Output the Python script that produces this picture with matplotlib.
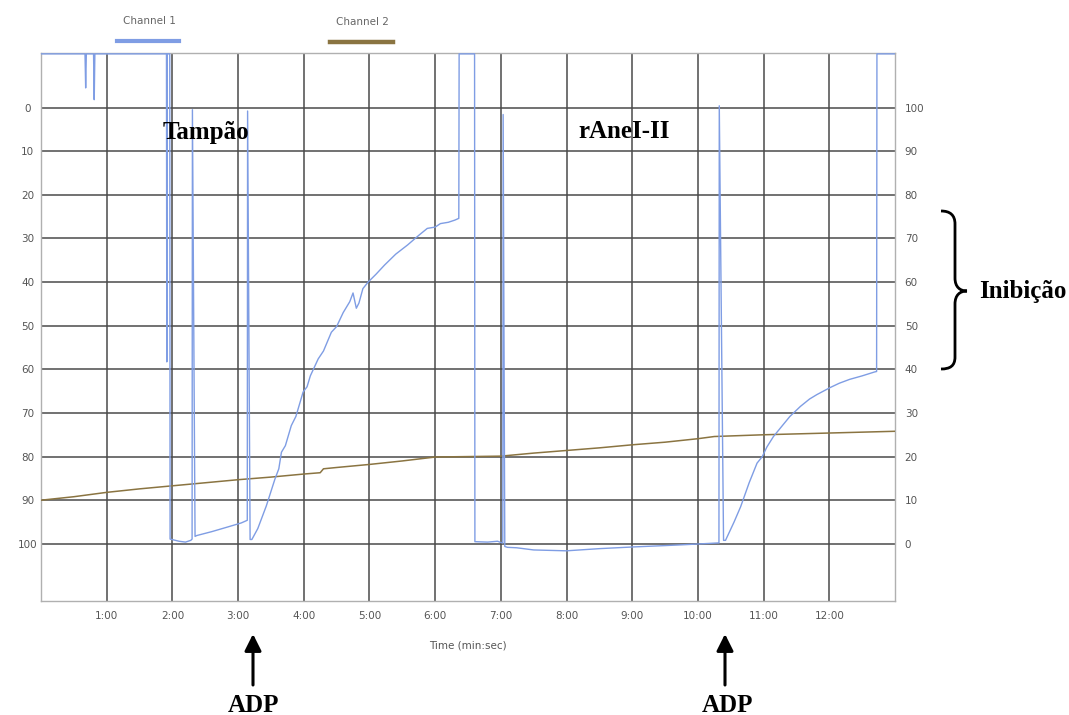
import matplotlib
matplotlib.use("Agg")
import matplotlib.pyplot as plt
from matplotlib.lines import Line2D
from matplotlib.path import Path
from matplotlib.patches import PathPatch

W, H = 1069, 715

# ---- axis ticks ----
x_ticks = list(range(1, 13))
x_tick_labels = [f"{m}:00" for m in x_ticks]
left_ticks = list(range(0, 101, 10))
left_tick_labels = [str(v) for v in left_ticks]
right_tick_labels = [str(100 - v) for v in left_ticks]

OFF = -12.3  # recorder pinned at the top of the scale

# ---- Channel 1 (light transmission trace), time in minutes ----
ch1_t = [0.00, 0.67, 0.68, 0.69, 0.80, 0.81, 0.82,
         1.91, 1.915, 1.92, 1.96, 1.965,
         2.10, 2.20, 2.28, 2.30, 2.305, 2.345, 2.37,
         2.60, 2.85, 3.05, 3.14, 3.145, 3.183,
         3.21, 3.30, 3.43, 3.56, 3.62, 3.66, 3.72, 3.81, 3.88, 3.99,
         4.05, 4.10, 4.22, 4.30, 4.42, 4.50, 4.60, 4.70, 4.75, 4.80,
         4.84, 4.90, 4.98, 5.10, 5.23, 5.40, 5.58, 5.75, 5.88, 6.00,
         6.08, 6.20, 6.30, 6.36, 6.365, 6.60, 6.605,
         6.80, 6.95, 7.00, 7.03, 7.035, 7.06, 7.10, 7.24, 7.50, 8.00,
         8.50, 9.03, 9.50, 9.79, 10.30, 10.32, 10.325, 10.39,
         10.42, 10.55, 10.65, 10.78, 10.90, 10.98, 11.05, 11.15, 11.28,
         11.40, 11.56, 11.70, 11.81, 12.01, 12.15, 12.31, 12.50, 12.69,
         12.72, 12.725, 13.00]
ch1_v = [OFF, OFF, -4.5, OFF, OFF, -1.8, OFF,
         OFF, 58.3, OFF, OFF, 98.9,
         99.4, 99.6, 99.2, 98.9, 0.5, 98.3, 98.1,
         97.2, 96.1, 95.2, 94.6, 0.8, 99.0,
         99.0, 96.5, 91.3, 85.2, 82.8, 79.0, 77.5, 72.9, 70.8, 65.2,
         64.0, 61.5, 57.6, 55.8, 51.5, 50.2, 47.0, 44.5, 42.5, 46.0,
         44.8, 41.5, 40.0, 38.2, 36.1, 33.6, 31.5, 29.3, 27.7, 27.4,
         26.6, 26.3, 25.8, 25.4, OFF, OFF, 99.5,
         99.6, 99.4, 99.7, 99.8, 1.6, 100.6, 100.8, 100.9, 101.4, 101.6,
         101.1, 100.7, 100.4, 100.2, 99.8, 99.8, -0.4, 99.2,
         99.2, 95.0, 91.5, 86.0, 81.5, 80.0, 77.8, 75.4, 73.0,
         70.8, 68.5, 66.8, 65.8, 64.2, 63.2, 62.3, 61.5, 60.6,
         60.5, OFF, OFF]

# ---- Channel 2 (reference channel) ----
ch2_t = [0.0, 0.5, 1.0, 1.5, 2.0, 2.5, 3.0, 3.5, 4.0, 4.25, 4.3, 4.5,
         5.0, 5.5, 6.0, 6.5, 7.0, 7.5, 8.0, 8.5, 9.0, 9.5, 10.0, 10.25,
         11.0, 12.0, 13.0]
ch2_v = [90.0, 89.2, 88.2, 87.4, 86.7, 86.0, 85.3, 84.7, 84.0, 83.7, 82.8, 82.5,
         81.8, 81.0, 80.1, 80.0, 79.9, 79.2, 78.6, 78.0, 77.3, 76.7, 75.9, 75.4,
         75.0, 74.6, 74.2]

BLUE = "#7f9de4"
BROWN = "#8a7441"
GRID = "#4a4a4a"
LABEL = "#555555"


def fx(x):
    return x / W


def fy(y):
    return 1 - y / H


fig = plt.figure(figsize=(W / 100, H / 100), dpi=100)
ax = fig.add_axes([fx(41), fy(601), (895 - 41) / W, (601 - 53) / H])
ax.set_xlim(0, 13)
ax.set_ylim(113.1, -12.5)

ax.set_xticks(x_ticks)
ax.set_xticklabels(x_tick_labels)
ax.set_yticks(left_ticks)
ax.set_yticklabels(left_tick_labels)
ax.tick_params(axis="both", length=0, labelsize=7.5, labelcolor=LABEL)
ax.tick_params(axis="x", pad=7)
ax.tick_params(axis="y", pad=9.5)
for lab in ax.get_yticklabels():
    lab.set_horizontalalignment("center")

ax.grid(True, color=GRID, lw=1.1, zorder=0)
for s in ax.spines.values():
    s.set_color("#b0b0b0")
    s.set_linewidth(1.0)

ax.set_xlabel("Time (min:sec)", fontsize=7.5, color=LABEL, labelpad=14)

ax.plot(ch2_t, ch2_v, color=BROWN, lw=1.1, zorder=3)
ax.plot(ch1_t, ch1_v, color=BLUE, lw=1.0, zorder=4)

ax2 = ax.twinx()
ax2.set_ylim(ax.get_ylim())
ax2.set_yticks(left_ticks)
ax2.set_yticklabels(right_tick_labels)
ax2.tick_params(axis="y", length=0, labelsize=7.5, labelcolor=LABEL, pad=7)
for s in ax2.spines.values():
    s.set_visible(False)

# legend entries above the plot
fig.text(fx(149), fy(21), "Channel 1", fontsize=7.5, color="#666666", ha="center", va="center")
fig.add_artist(Line2D([fx(117), fx(179)], [fy(40.5)] * 2, color=BLUE, lw=3))
fig.text(fx(362), fy(22), "Channel 2", fontsize=7.5, color="#666666", ha="center", va="center")
fig.add_artist(Line2D([fx(330), fx(393)], [fy(42)] * 2, color=BROWN, lw=3.2))

# annotations
bold = dict(family="Liberation Serif", fontweight="bold", fontsize=18, color="black")
fig.text(fx(206), fy(138.5), "Tampão", ha="center", va="baseline", **bold)
fig.text(fx(624), fy(138.5), "rAneI-II", ha="center", va="baseline", **bold)
fig.text(fx(1023), fy(298.5), "Inibição", ha="center", va="baseline", **bold)
fig.text(fx(253), fy(711.5), "ADP", ha="center", va="baseline", **bold)
fig.text(fx(727), fy(711.5), "ADP", ha="center", va="baseline", **bold)

for xa in (253, 725):
    ax.annotate("", xy=(fx(xa), fy(634)), xytext=(fx(xa), fy(685)),
                xycoords="figure fraction", textcoords="figure fraction",
                arrowprops=dict(arrowstyle="-|>,head_length=0.7,head_width=0.35",
                                mutation_scale=14.4, lw=2.2, color="black",
                                shrinkA=0, shrinkB=0))

# curly brace marking the inhibition range
brace_px = [(941, 211), (950, 211), (955, 215), (955, 224),
            (955, 278),
            (955, 287), (960, 291), (967, 291),
            (960, 291), (955, 295), (955, 304),
            (955, 357),
            (955, 366), (950, 369), (941, 369)]
codes = [Path.MOVETO, Path.CURVE4, Path.CURVE4, Path.CURVE4,
         Path.LINETO,
         Path.CURVE4, Path.CURVE4, Path.CURVE4,
         Path.CURVE4, Path.CURVE4, Path.CURVE4,
         Path.LINETO,
         Path.CURVE4, Path.CURVE4, Path.CURVE4]
brace = Path([(fx(x), fy(y)) for x, y in brace_px], codes)
fig.add_artist(PathPatch(brace, transform=fig.transFigure, fill=False, lw=2.0, color="black"))

fig.savefig("out.png", dpi=100, facecolor="white")
